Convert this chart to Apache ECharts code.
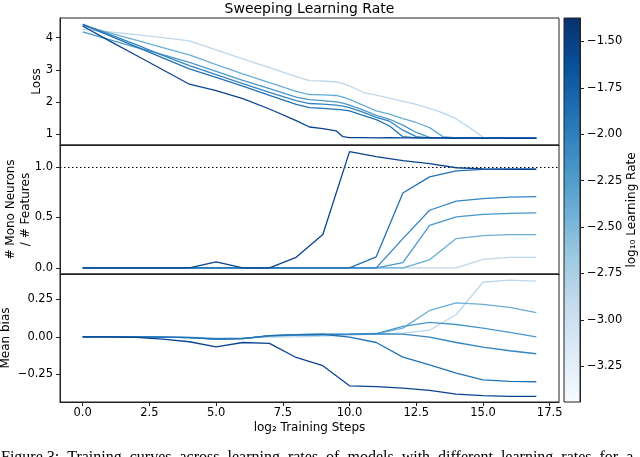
<!DOCTYPE html>
<html><head><meta charset="utf-8">
<script src="https://cdn.jsdelivr.net/npm/echarts@6/dist/echarts.min.js"></script>
<style>html,body{margin:0;padding:0;background:#fff}#c{width:640px;height:457px}</style>
</head><body><div id="c"></div>
<script>
// ---------- data ----------
const lossSteps = [0,1,2,3,4,5,6,7,8,8.5,9,9.5,9.75,10,10.5,11,11.5,12,12.5,13,13.5,14,14.5,15,15.5,16,16.5,17];
const loss1 = [4.36,3.90,3.45,3.00,2.55,2.35,2.10,1.78,1.42,1.22,1.17,1.10,0.92,0.89,0.89,0.88,0.89,0.88,0.88,0.89,0.88,0.87,0.88,0.87,0.88,0.87,0.87,0.87];
const loss2 = [4.40,4.06,3.72,3.37,3.03,2.76,2.49,2.20,1.92,1.82,1.80,1.77,1.75,1.72,1.58,1.45,1.25,0.92,0.88,0.89,0.88,0.87,0.88,0.87,0.88,0.87,0.87,0.87];
const loss3 = [4.42,4.10,3.78,3.45,3.13,2.85,2.57,2.30,2.04,1.95,1.93,1.90,1.87,1.82,1.68,1.52,1.40,1.12,0.92,0.88,0.89,0.88,0.87,0.88,0.87,0.87,0.88,0.87];
const loss4 = [4.18,3.94,3.70,3.47,3.23,2.95,2.67,2.41,2.15,2.07,2.04,2.00,1.96,1.90,1.75,1.58,1.46,1.28,1.05,0.90,0.88,0.89,0.87,0.88,0.87,0.88,0.87,0.87];
const loss5 = [4.38,4.15,3.92,3.69,3.46,3.16,2.87,2.60,2.33,2.23,2.22,2.20,2.15,2.08,1.90,1.72,1.62,1.48,1.36,1.20,0.92,0.88,0.89,0.87,0.88,0.87,0.87,0.87];
const loss6 = [4.26,4.18,4.09,4.00,3.90,3.62,3.34,3.07,2.79,2.66,2.65,2.62,2.57,2.50,2.30,2.21,2.12,2.02,1.92,1.80,1.66,1.47,1.20,0.90,0.88,0.87,0.88,0.87];

const steps = [0,1,2,3,4,5,6,7,8,9,10,11,12,13,14,15,16,17];
const mono1 = [0,0,0,0,0,0.06,0,0,0.105,0.33,1.15,1.10,1.06,1.03,0.99,0.98,0.975,0.975];
const mono2 = [0,0,0,0,0,0,0,0,0,0,0,0.11,0.74,0.90,0.96,0.975,0.98,0.98];
const mono3 = [0,0,0,0,0,0,0,0,0,0,0,0,0.29,0.57,0.66,0.685,0.70,0.705];
const mono4 = [0,0,0,0,0,0,0,0,0,0,0,0,0.053,0.42,0.505,0.53,0.54,0.545];
const mono5 = [0,0,0,0,0,0,0,0,0,0,0,0,0,0.08,0.29,0.32,0.33,0.33];
const mono6 = [0,0,0,0,0,0,0,0,0,0,0,0,0,0,0,0.085,0.105,0.105];
const monoRef = 1.0;

const bias1 = [0,0,-0.004,-0.016,-0.033,-0.067,-0.038,-0.044,-0.138,-0.193,-0.327,-0.333,-0.342,-0.358,-0.382,-0.393,-0.398,-0.398];
const bias2 = [0,0,0,-0.002,-0.005,-0.015,-0.012,0.008,0.015,0.017,-0.002,-0.038,-0.136,-0.187,-0.242,-0.287,-0.298,-0.300];
const bias3 = [0,0,0,-0.002,-0.005,-0.015,-0.012,0.008,0.015,0.017,0.018,0.020,0.018,-0.002,-0.038,-0.069,-0.093,-0.113];
const bias4 = [0,0,0,-0.002,-0.005,-0.015,-0.012,0.006,0.012,0.015,0.018,0.022,0.069,0.096,0.082,0.058,0.029,0.000];
const bias5 = [0,0,0,-0.002,-0.004,-0.012,-0.010,0.005,0.010,0.013,0.016,0.020,0.058,0.176,0.227,0.216,0.196,0.162];
const bias6 = [0,0,0,-0.001,-0.003,-0.008,-0.008,-0.002,0.000,0.005,0.012,0.018,0.024,0.044,0.149,0.364,0.378,0.371];

const xTicks = [0,2.5,5,7.5,10,12.5,15,17.5];
const lossTicks = [1,2,3,4];
const monoTicks = [0,0.5,1.0];
const biasTicks = [-0.25,0,0.25];
const cbarTicks = [-3.25,-3.0,-2.75,-2.5,-2.25,-2.0,-1.75,-1.5];
const cbarMin = -3.442, cbarMax = -1.374;

// ---------- style ----------
const FONT = 'DejaVu Sans';
const lineColors = ['#0a4490','#2272b6','#3585c2','#4a98cb','#6aaed6','#bdd7ec'];
const blues = ['#f7fbff','#deebf7','#c6dbef','#9ecae1','#6baed6','#4292c6','#2171b5','#08519c','#08306b'];
const axisCol = '#222';
const fmt = d => v => (v < 0 ? '\u2212' : '') + Math.abs(v).toFixed(d);

const lossSets = [loss1,loss2,loss3,loss4,loss5,loss6];
const monoSets = [mono1,mono2,mono3,mono4,mono5,mono6];
const biasSets = [bias1,bias2,bias3,bias4,bias5,bias6];

const gridBase = {left:60, width:499, show:true, borderColor:axisCol, borderWidth:1,
  backgroundColor:'transparent', containLabel:false, outerBoundsMode:'none'};
const grids = [
  Object.assign({}, gridBase, {top:18, height:127}),
  Object.assign({}, gridBase, {top:145, height:129}),
  Object.assign({}, gridBase, {top:274, height:128}),
  {left:564, width:16, top:18, height:384, show:true, borderColor:axisCol, borderWidth:1,
   containLabel:false, outerBoundsMode:'none',
   backgroundColor:{type:'linear', x:0, y:1, x2:0, y2:0,
     colorStops: blues.map((c,i)=>({offset:i/(blues.length-1), color:c}))}}
];

function xAx(i){
  const last = i === 2;
  return {
    type:'value', gridIndex:i, min:-0.85, max:17.85, position:'bottom',
    axisLine:{show:true, onZero:false, lineStyle:{color:axisCol, width:1}},
    splitLine:{show:false},
    axisTick:{show:last, customValues:xTicks, length:4, lineStyle:{color:axisCol}},
    axisLabel:{show:last, customValues:xTicks, formatter:fmt(1), color:'#000', fontFamily:FONT, fontSize:11.5, margin:5},
    name: last ? 'log\u2082 Training Steps' : '',
    nameLocation:'middle', nameGap:20, nameMoveOverlap:false,
    nameTextStyle:{color:'#000', fontFamily:FONT, fontSize:12}
  };
}
function yAx(i, min, max, ticks, dec, name, gap){
  return {
    type:'value', gridIndex:i, min:min, max:max, position:'left',
    axisLine:{show:true, onZero:false, lineStyle:{color:axisCol, width:1}}, splitLine:{show:false},
    axisTick:{show:true, customValues:ticks, length:4, lineStyle:{color:axisCol}},
    axisLabel:{customValues:ticks, formatter:fmt(dec), color:'#000', fontFamily:FONT, fontSize:11.5, margin:7},
    name:name, nameLocation:'middle', nameGap:gap, nameRotate:90, nameMoveOverlap:false,
    nameTextStyle:{color:'#000', fontFamily:FONT, fontSize:12, lineHeight:15, align:'center'}
  };
}

const series = [];
lossSets.forEach((arr,k)=>{
  series.push({type:'line', xAxisIndex:0, yAxisIndex:0, symbol:'none', animation:false,
    lineStyle:{width:1.3, color:lineColors[k]}, z:10-k,
    data: lossSteps.map((s,j)=>[s, arr[j]])});
});
monoSets.forEach((arr,k)=>{
  const s = {type:'line', xAxisIndex:1, yAxisIndex:1, symbol:'none', animation:false,
    lineStyle:{width:1.3, color:lineColors[k]}, z:10-k,
    data: steps.map((st,j)=>[st, arr[j]])};
  if (k === 0) s.markLine = {silent:true, symbol:'none', animation:false, label:{show:false},
    lineStyle:{type:[1.5,2.5], color:'#000', width:1.2}, data:[{yAxis:monoRef}]};
  series.push(s);
});
biasSets.forEach((arr,k)=>{
  series.push({type:'line', xAxisIndex:2, yAxisIndex:2, symbol:'none', animation:false,
    lineStyle:{width:1.3, color:lineColors[k]}, z:10-k,
    data: steps.map((st,j)=>[st, arr[j]])});
});

const option = {
  backgroundColor:'#fff',
  animation:false,
  title:{text:'Sweeping Learning Rate', left:309.5, top:2, padding:0, textAlign:'center',
    textStyle:{fontFamily:FONT, fontSize:14, fontWeight:'normal', color:'#000'}},
  grid: grids,
  xAxis:[xAx(0), xAx(1), xAx(2),
    {type:'value', gridIndex:3, min:0, max:1, show:false, axisLine:{onZero:false}}],
  yAxis:[
    yAx(0, 0.66, 4.61, lossTicks, 0, 'Loss', 16),
    yAx(1, -0.06, 1.215, monoTicks, 1, '# Mono Neurons\n/ # Features', 27),
    yAx(2, -0.435, 0.419, biasTicks, 2, 'Mean bias', 47),
    {type:'value', gridIndex:3, position:'right', min:cbarMin, max:cbarMax,
     axisLine:{show:true, onZero:false, lineStyle:{color:axisCol, width:1}}, splitLine:{show:false},
     axisTick:{show:true, customValues:cbarTicks, length:4, lineStyle:{color:axisCol}},
     axisLabel:{customValues:cbarTicks, formatter:fmt(2), color:'#000', fontFamily:FONT, fontSize:11.5, margin:7},
     name:'log\u2081\u2080 Learning Rate', nameLocation:'middle', nameGap:46, nameRotate:90, nameMoveOverlap:false,
     nameTextStyle:{color:'#000', fontFamily:FONT, fontSize:12}}
  ],
  graphic:[{type:'text', left:1, top:450, silent:true,
    style:{text:'Figure 3:  Training  curves  across  learning  rates  of  models  with  different  learning  rates  for  a  fixed  batch',
      font:'16px "Liberation Serif"', fill:'#000'}}],
  series: series
};
const chart = echarts.init(document.getElementById('c'), null, {renderer:'canvas'});
chart.setOption(option);
</script>
</body></html>
